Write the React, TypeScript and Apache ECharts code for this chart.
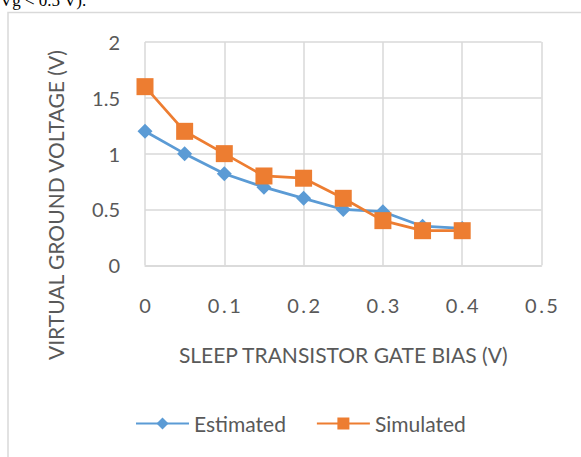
import React, { useEffect, useRef } from "react";
import * as echarts from "echarts";

const xValues = [0, 0.05, 0.1, 0.15, 0.2, 0.25, 0.3, 0.35, 0.4];
const estimated = [1.2, 1.0, 0.82, 0.7, 0.6, 0.5, 0.48, 0.35, 0.33];
const simulated = [1.6, 1.2, 1.0, 0.8, 0.78, 0.6, 0.4, 0.31, 0.31];
const seriesNames = ["Estimated", "Simulated"];
const xAxisTitle = "SLEEP TRANSISTOR GATE BIAS (V)";
const yAxisTitle = "VIRTUAL GROUND VOLTAGE (V)";
const captionText = "Vg < 0.5 V).";

const FONT = "Lato";
const GRAY = "#595959";
const GRID = "#d9d9d9";

export default function App() {
  const ref = useRef<HTMLDivElement>(null);
  useEffect(() => {
    document.body.style.margin = "0";
    const chart = echarts.init(ref.current!, null, { renderer: "svg" });
    chart.setOption({
      animation: false,
      backgroundColor: "#ffffff",
      grid: { left: 145, right: 39.5, top: 42, bottom: 191.7 },
      xAxis: {
        type: "value",
        min: 0,
        max: 0.5,
        interval: 0.1,
        axisLine: { show: true, lineStyle: { color: GRID, width: 1.5 } },
        axisTick: { show: false },
        splitLine: { show: true, lineStyle: { color: GRID, width: 1.5 } },
        axisLabel: {
          color: GRAY,
          fontFamily: FONT,
          fontSize: 20,
          margin: 30,
          formatter: (v: number) => String(Math.round(v * 10) / 10).split("").join("\u2009"),
        },
        name: xAxisTitle,
        nameLocation: "middle",
        nameGap: 79,
        nameTextStyle: { color: GRAY, fontFamily: FONT, fontSize: 21 },
      },
      yAxis: {
        type: "value",
        min: 0,
        max: 2,
        interval: 0.5,
        axisLine: { show: false },
        axisTick: { show: false },
        splitLine: { show: true, lineStyle: { color: GRID, width: 1.5 } },
        axisLabel: { color: GRAY, fontFamily: FONT, fontSize: 20, margin: 25 },
      },
      legend: {
        left: 130,
        top: 408,
        itemWidth: 53,
        itemHeight: 15,
        itemGap: 30,
        textStyle: { color: GRAY, fontFamily: FONT, fontSize: 21 },
        data: seriesNames,
      },
      graphic: [
        {
          type: "rect",
          shape: { x: 8, y: 12.5, width: 700, height: 600 },
          style: { fill: "none", stroke: GRID, lineWidth: 1.5 },
          silent: true,
          z: -10,
        },
        {
          type: "text",
          x: 0,
          y: 9,
          style: {
            text: captionText,
            fill: "#000000",
            font: "17px 'Liberation Serif'",
            verticalAlign: "bottom",
          },
        },
        {
          type: "text",
          x: 55,
          y: 205,
          rotation: Math.PI / 2,
          style: {
            text: yAxisTitle,
            fill: GRAY,
            font: `21px ${FONT}`,
            align: "center",
            verticalAlign: "middle",
          },
        },
      ],
      series: [
        {
          name: seriesNames[0],
          type: "line",
          data: xValues.map((x, i) => [x, estimated[i]]),
          symbol: "diamond",
          symbolSize: 15,
          itemStyle: { color: "#5B9BD5" },
          lineStyle: { color: "#5B9BD5", width: 2.75 },
        },
        {
          name: seriesNames[1],
          type: "line",
          data: xValues.map((x, i) => [x, simulated[i]]),
          symbol: "rect",
          symbolSize: 17,
          itemStyle: { color: "#ED7D31" },
          lineStyle: { color: "#ED7D31", width: 2.75 },
        },
      ],
    });
    return () => chart.dispose();
  }, []);
  return <div ref={ref} style={{ width: 581, height: 457 }} />;
}
